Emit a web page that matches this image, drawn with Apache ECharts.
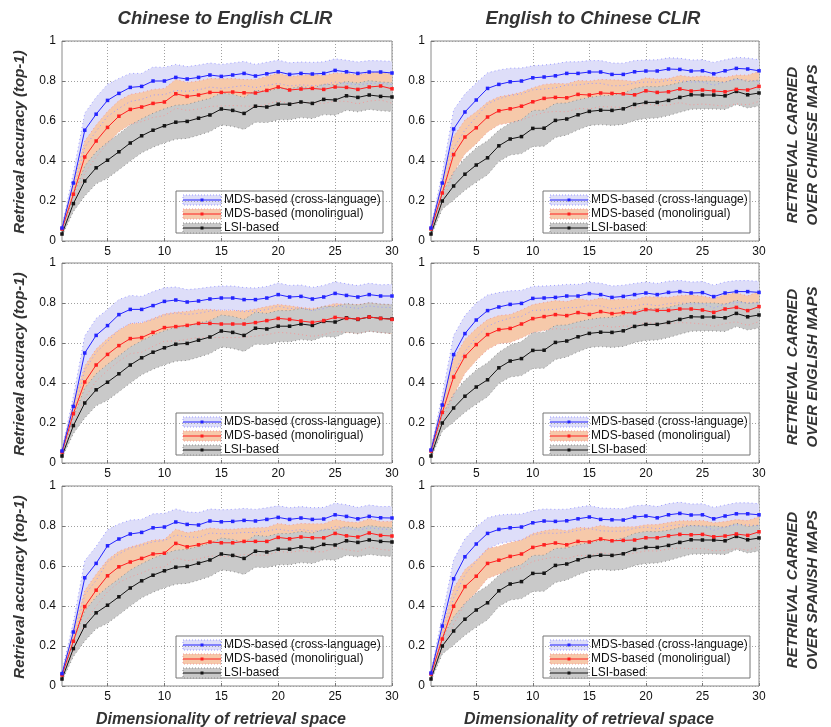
<!DOCTYPE html>
<html><head><meta charset="utf-8">
<script src="https://cdn.jsdelivr.net/npm/echarts@6/dist/echarts.min.js"></script>
<style>html,body{margin:0;padding:0;background:#fff}#c{width:831px;height:727px}</style>
</head><body><div id="c"></div>
<script>
// ---------------- data ----------------
const dims = [1,2,3,4,5,6,7,8,9,10,11,12,13,14,15,16,17,18,19,20,21,22,23,24,25,26,27,28,29,30];
const colTitles = ['Chinese to English CLIR', 'English to Chinese CLIR'];
const rowLabels = [['RETRIEVAL CARRIED', 'OVER CHINESE MAPS'], ['RETRIEVAL CARRIED', 'OVER ENGLISH MAPS'], ['RETRIEVAL CARRIED', 'OVER SPANISH MAPS']];
const legendNames = ['MDS-based (cross-language)', 'MDS-based (monolingual)', 'LSI-based'];
const yName = 'Retrieval accuracy (top-1)';
const xName = 'Dimensionality of retrieval space';

// LSI (independent of maps), per column
const lsiCE = [0.035,0.187,0.30,0.366,0.404,0.446,0.49,0.526,0.554,0.576,0.594,0.598,0.614,0.63,0.66,0.653,0.638,0.674,0.67,0.684,0.684,0.695,0.688,0.708,0.705,0.726,0.718,0.73,0.723,0.72];
const lsiEC = [0.035,0.20,0.275,0.334,0.38,0.416,0.476,0.51,0.522,0.563,0.564,0.603,0.61,0.631,0.648,0.654,0.653,0.661,0.683,0.693,0.693,0.703,0.718,0.731,0.73,0.73,0.726,0.748,0.731,0.74];

// Chinese maps
const crossCE_zh = [0.065,0.29,0.554,0.634,0.703,0.738,0.768,0.773,0.80,0.80,0.818,0.81,0.818,0.83,0.823,0.83,0.838,0.825,0.836,0.846,0.833,0.838,0.835,0.838,0.853,0.846,0.838,0.845,0.845,0.84];
const monoCE_zh  = [0.06,0.234,0.42,0.50,0.568,0.624,0.658,0.67,0.688,0.695,0.736,0.723,0.73,0.743,0.743,0.745,0.741,0.74,0.753,0.77,0.755,0.76,0.763,0.758,0.77,0.768,0.758,0.77,0.775,0.761];
const crossEC_zh = [0.065,0.29,0.56,0.645,0.705,0.763,0.783,0.796,0.80,0.816,0.82,0.826,0.838,0.838,0.845,0.845,0.833,0.833,0.846,0.85,0.85,0.86,0.858,0.85,0.851,0.836,0.851,0.863,0.86,0.851];
const monoEC_zh  = [0.06,0.24,0.432,0.52,0.566,0.62,0.651,0.661,0.674,0.696,0.713,0.718,0.716,0.733,0.73,0.74,0.738,0.736,0.731,0.751,0.743,0.746,0.76,0.75,0.755,0.75,0.746,0.758,0.755,0.773];
// English maps
const crossCE_en = [0.06,0.283,0.55,0.638,0.687,0.742,0.768,0.768,0.787,0.808,0.815,0.805,0.81,0.82,0.825,0.825,0.817,0.817,0.825,0.842,0.83,0.833,0.82,0.83,0.848,0.838,0.83,0.842,0.835,0.835];
const monoCE_en  = [0.055,0.247,0.405,0.49,0.543,0.587,0.622,0.627,0.653,0.677,0.682,0.688,0.698,0.698,0.695,0.695,0.695,0.702,0.712,0.723,0.718,0.71,0.703,0.712,0.728,0.723,0.72,0.73,0.723,0.718];
const crossEC_en = [0.065,0.29,0.542,0.647,0.715,0.762,0.78,0.793,0.798,0.823,0.825,0.828,0.835,0.835,0.847,0.842,0.828,0.833,0.842,0.85,0.842,0.853,0.857,0.85,0.852,0.832,0.85,0.857,0.857,0.853];
const monoEC_en  = [0.06,0.253,0.43,0.533,0.592,0.642,0.667,0.673,0.695,0.722,0.732,0.742,0.737,0.752,0.743,0.757,0.747,0.752,0.75,0.767,0.763,0.763,0.77,0.77,0.765,0.753,0.77,0.778,0.762,0.782];
// Spanish maps
const crossCE_es = [0.062,0.27,0.541,0.613,0.701,0.735,0.76,0.768,0.791,0.795,0.82,0.808,0.805,0.825,0.821,0.823,0.828,0.825,0.833,0.843,0.833,0.84,0.833,0.835,0.856,0.848,0.836,0.848,0.841,0.84];
const monoCE_es  = [0.055,0.224,0.397,0.479,0.551,0.596,0.62,0.638,0.66,0.664,0.713,0.696,0.706,0.72,0.716,0.716,0.723,0.723,0.723,0.743,0.736,0.745,0.741,0.741,0.763,0.751,0.745,0.765,0.753,0.75];
const crossEC_es = [0.065,0.30,0.536,0.646,0.71,0.763,0.783,0.791,0.795,0.816,0.825,0.823,0.826,0.836,0.845,0.833,0.831,0.83,0.845,0.85,0.841,0.856,0.863,0.855,0.856,0.836,0.85,0.861,0.861,0.856];
const monoEC_es  = [0.06,0.235,0.399,0.497,0.549,0.613,0.629,0.648,0.66,0.693,0.706,0.715,0.706,0.723,0.72,0.735,0.726,0.728,0.73,0.741,0.741,0.751,0.758,0.756,0.758,0.746,0.75,0.76,0.753,0.771];

// half-widths of the shaded variability bands, per column
const hwCrossCE = [0.01,0.05,0.085,0.085,0.08,0.075,0.07,0.065,0.07,0.068,0.065,0.062,0.062,0.06,0.06,0.06,0.06,0.058,0.058,0.058,0.058,0.057,0.058,0.058,0.058,0.058,0.057,0.057,0.056,0.058];
const hwMonoCE  = [0.01,0.05,0.08,0.08,0.08,0.078,0.075,0.073,0.07,0.068,0.072,0.07,0.07,0.07,0.068,0.068,0.066,0.068,0.07,0.07,0.068,0.068,0.07,0.07,0.07,0.07,0.072,0.07,0.07,0.072];
const hwLsiCE   = [0.01,0.04,0.075,0.08,0.09,0.09,0.09,0.085,0.085,0.085,0.085,0.085,0.085,0.083,0.08,0.08,0.08,0.08,0.078,0.078,0.078,0.078,0.076,0.076,0.076,0.072,0.072,0.072,0.072,0.072];
const hwCrossEC = [0.01,0.05,0.095,0.09,0.085,0.078,0.072,0.068,0.065,0.06,0.06,0.06,0.058,0.058,0.057,0.057,0.057,0.056,0.056,0.055,0.056,0.056,0.056,0.055,0.055,0.057,0.055,0.055,0.055,0.055];
const hwMonoEC  = [0.01,0.05,0.09,0.085,0.08,0.075,0.07,0.07,0.07,0.07,0.07,0.07,0.07,0.07,0.07,0.068,0.068,0.068,0.066,0.065,0.066,0.066,0.068,0.07,0.07,0.07,0.072,0.072,0.074,0.075];
const hwLsiEC   = [0.01,0.04,0.07,0.08,0.085,0.085,0.078,0.08,0.085,0.09,0.09,0.085,0.08,0.075,0.07,0.072,0.075,0.078,0.08,0.08,0.078,0.076,0.074,0.072,0.07,0.07,0.068,0.066,0.066,0.065];

// ---------------- layout / style ----------------
const colLeft = [62, 431], colWidth = [330, 328];
const rowTop = [41, 263, 486], plotH = 200;
const lineColors = ['#2424ff', '#ff2020', '#151515'];
const bandColors = ['#dedef9', '#f6c9aa', '#c9c9c9'];
const dotColors  = ['#9a9aff', '#f29a9a', '#8e8e8e'];
const FONT = 'Liberation Sans, Arial, sans-serif';

const panels = [
  { r: 0, c: 0, s: [crossCE_zh, monoCE_zh, lsiCE], hw: [hwCrossCE, hwMonoCE, hwLsiCE] },
  { r: 0, c: 1, s: [crossEC_zh, monoEC_zh, lsiEC], hw: [hwCrossEC, hwMonoEC, hwLsiEC] },
  { r: 1, c: 0, s: [crossCE_en, monoCE_en, lsiCE], hw: [hwCrossCE, hwMonoCE, hwLsiCE] },
  { r: 1, c: 1, s: [crossEC_en, monoEC_en, lsiEC], hw: [hwCrossEC, hwMonoEC, hwLsiEC] },
  { r: 2, c: 0, s: [crossCE_es, monoCE_es, lsiCE], hw: [hwCrossCE, hwMonoCE, hwLsiCE] },
  { r: 2, c: 1, s: [crossEC_es, monoEC_es, lsiEC], hw: [hwCrossEC, hwMonoEC, hwLsiEC] }
];

const every5 = (i, v) => Number(v) % 5 === 0;
const grids = [], xAxes = [], yAxes = [], series = [], graphics = [];

panels.forEach((p, k) => {
  grids.push({ left: colLeft[p.c], top: rowTop[p.r], width: colWidth[p.c], height: plotH,
    show: true, borderColor: '#8a8a8a', borderWidth: 1, backgroundColor: '#fff' });
  xAxes.push({ gridIndex: k, type: 'category', data: dims, boundaryGap: false,
    axisLine: { show: false },
    axisTick: { show: true, inside: true, length: 3, interval: every5, lineStyle: { color: '#777' } },
    axisLabel: { interval: every5, margin: 5, fontSize: 12, color: '#111', fontFamily: FONT },
    splitLine: { show: true, interval: every5, lineStyle: { type: [1, 2], color: '#a0a0a0', width: 1 } } });
  yAxes.push({ gridIndex: k, type: 'value', min: 0, max: 1, interval: 0.2,
    axisLine: { show: false },
    axisTick: { show: true, inside: true, length: 3, lineStyle: { color: '#777' } },
    axisLabel: { margin: 6, fontSize: 12, color: '#111', fontFamily: FONT },
    splitLine: { show: true, lineStyle: { type: [1, 2], color: '#a0a0a0', width: 1 } } });

  const lows = p.s.map((m, j) => m.map((v, i) => +(v - p.hw[j][i]).toFixed(4)));
  const highs = p.s.map((m, j) => m.map((v, i) => +(v + p.hw[j][i]).toFixed(4)));
  const base = { type: 'line', xAxisIndex: k, yAxisIndex: k, symbol: 'none', silent: true, animation: false };
  // filled bands
  for (let j = 0; j < 3; j++) {
    const st = 'band' + k + '_' + j;
    series.push(Object.assign({}, base, { data: lows[j], stack: st, lineStyle: { opacity: 0, width: 0 } }));
    series.push(Object.assign({}, base, { data: p.hw[j].map(h => +(2 * h).toFixed(4)), stack: st,
      lineStyle: { opacity: 0, width: 0 }, areaStyle: { color: bandColors[j], opacity: 1 } }));
  }
  // dotted band edges
  for (let j = 0; j < 3; j++) {
    [lows[j], highs[j]].forEach(d => series.push(Object.assign({}, base, { data: d,
      lineStyle: { type: [1, 3], width: 1, color: dotColors[j] } })));
  }
  // mean curves
  for (let j = 2; j >= 0; j--) {
    series.push({ type: 'line', xAxisIndex: k, yAxisIndex: k, data: p.s[j], name: legendNames[j],
      symbol: 'rect', symbolSize: 3.5, showAllSymbol: true, animation: false,
      lineStyle: { width: 1, color: lineColors[j] }, itemStyle: { color: lineColors[j] } });
  }

  // legend box (drawn as graphic)
  const bw = 207, bh = 42;
  const bx = colLeft[p.c] + colWidth[p.c] - 9 - bw;
  const by = rowTop[p.r] + plotH - 8 - bh;
  const ch = [{ type: 'rect', shape: { x: 0, y: 0, width: bw, height: bh }, style: { fill: '#fff', stroke: '#777', lineWidth: 1 } }];
  for (let j = 0; j < 3; j++) {
    const cy = 9 + 14 * j;
    ch.push({ type: 'rect', shape: { x: 7, y: cy - 5, width: 38, height: 10 },
      style: { fill: bandColors[j], stroke: dotColors[j], lineWidth: 1, lineDash: [1, 2] } });
    ch.push({ type: 'line', shape: { x1: 7, y1: cy, x2: 45, y2: cy }, style: { stroke: lineColors[j], lineWidth: 1 } });
    ch.push({ type: 'rect', shape: { x: 24.5, y: cy - 1.5, width: 3, height: 3 }, style: { fill: lineColors[j] } });
    ch.push({ type: 'text', x: 48, y: cy, style: { text: legendNames[j], font: '12px ' + FONT, fill: '#111', align: 'left', verticalAlign: 'middle' } });
  }
  graphics.push({ type: 'group', x: bx, y: by, z: 100, children: ch });
});

const titleFont = 'italic bold 18.5px ' + FONT;
const sideFont = 'italic bold 15px ' + FONT;
[0, 1].forEach(c => {
  const cx = colLeft[c] + colWidth[c] / 2;
  graphics.push({ type: 'text', x: cx - 2, y: 19, z: 100, style: { text: colTitles[c], font: titleFont, fill: '#333', align: 'center', verticalAlign: 'middle' } });
  graphics.push({ type: 'text', x: cx - 6, y: 720, z: 100, style: { text: xName, font: 'italic bold 16px ' + FONT, fill: '#333', align: 'center', verticalAlign: 'middle' } });
});
[0, 1, 2].forEach(r => {
  const cy = rowTop[r] + plotH / 2;
  graphics.push({ type: 'text', x: 20, y: cy + 1, rotation: Math.PI / 2, z: 100, style: { text: yName, font: sideFont, fill: '#333', align: 'center', verticalAlign: 'middle' } });
  graphics.push({ type: 'text', x: 793, y: cy + 4, rotation: Math.PI / 2, z: 100, style: { text: rowLabels[r][0], font: sideFont, fill: '#333', align: 'center', verticalAlign: 'middle' } });
  graphics.push({ type: 'text', x: 813, y: cy + 4, rotation: Math.PI / 2, z: 100, style: { text: rowLabels[r][1], font: sideFont, fill: '#333', align: 'center', verticalAlign: 'middle' } });
});

const chart = echarts.init(document.getElementById('c'), null, { renderer: 'canvas' });
chart.setOption({
  animation: false,
  backgroundColor: '#fff',
  textStyle: { fontFamily: FONT },
  grid: grids, xAxis: xAxes, yAxis: yAxes, series: series, graphic: graphics
});
</script></body></html>
